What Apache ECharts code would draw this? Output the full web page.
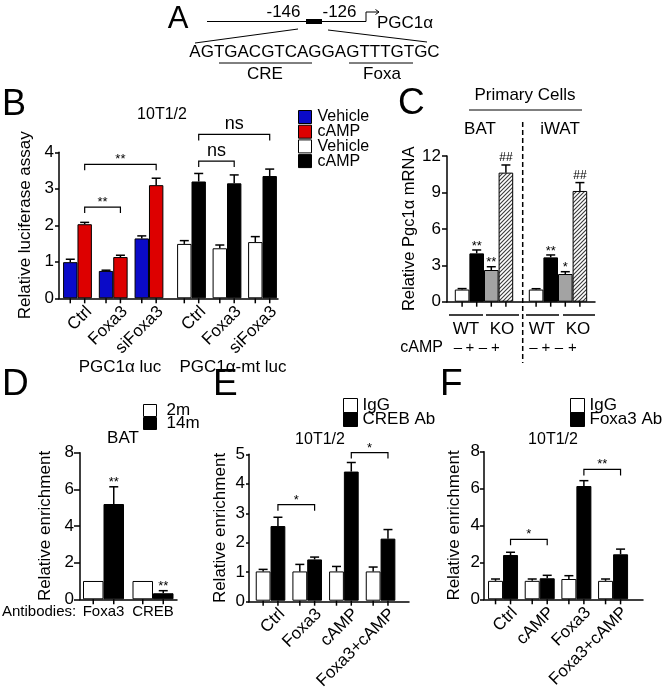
<!DOCTYPE html>
<html><head><meta charset="utf-8">
<script src="https://cdn.jsdelivr.net/npm/echarts@6/dist/echarts.min.js"></script>
<style>html,body{margin:0;padding:0;background:#fff}#c{width:666px;height:692px}</style>
</head><body><div id="c"></div>
<script>
// ---------------- DATA ----------------
// Panel B (10T1/2 luciferase)
const bCategories = ['Ctrl', 'Foxa3', 'siFoxa3'];
const bYTicks = [0, 1, 2, 3, 4];
const bLucVehicle = [0.99, 0.75, 1.64];
const bLucVehicleErr = [0.08, 0.02, 0.07];
const bLucCamp = [2.03, 1.13, 3.10];
const bLucCampErr = [0.05, 0.05, 0.19];
const bMtVehicle = [1.49, 1.37, 1.54];
const bMtVehicleErr = [0.09, 0.09, 0.15];
const bMtCamp = [3.20, 3.15, 3.35];
const bMtCampErr = [0.22, 0.23, 0.19];
const bLucBrackets = [[0, 1, 2.5], [0, 2, 3.67]];
const bLucBracketText = ['**', '**'];
const bMtBrackets = [[0, 1, 3.76], [0, 2, 4.49]];
const bMtBracketText = ['ns', 'ns'];

// Panel C (primary cells)
const cCategories = ['BAT', 'iWAT'];
const cYTicks = [0, 3, 6, 9, 12];
const cWtVehicle = [1.0, 1.0];
const cWtVehicleErr = [0.08, 0.07];
const cWtCamp = [3.98, 3.65];
const cWtCampErr = [0.28, 0.20];
const cWtCampSig = ['**', '**'];
const cKoVehicle = [2.61, 2.28];
const cKoVehicleErr = [0.27, 0.19];
const cKoVehicleSig = ['**', '*'];
const cKoCamp = [10.63, 9.12];
const cKoCampErr = [0.63, 0.69];
const cKoCampSig = ['##', '##'];

// Panel D (BAT ChIP)
const dCategories = ['Foxa3', 'CREB'];
const dYTicks = [0, 2, 4, 6, 8];
const d2m = [1.0, 1.0];
const d2mErr = [0.0, 0.0];
const d14m = [5.2, 0.33];
const d14mErr = [0.94, 0.14];
const d14mSig = ['**', '**'];

// Panel E (CREB ChIP)
const eCategories = ['Ctrl', 'Foxa3', 'cAMP', 'Foxa3+cAMP'];
const eYTicks = [0, 1, 2, 3, 4, 5];
const eIgG = [1.0, 1.0, 1.0, 1.0];
const eIgGErr = [0.07, 0.24, 0.17, 0.15];
const eCreb = [2.55, 1.41, 4.41, 2.12];
const eCrebErr = [0.30, 0.08, 0.31, 0.31];
const eBrackets = [[0, 1, 3.28], [2, 3, 5.06]];
const eBracketText = ['*', '*'];

// Panel F (Foxa3 ChIP)
const fCategories = ['Ctrl', 'cAMP', 'Foxa3', 'Foxa3+cAMP'];
const fYTicks = [0, 2, 4, 6, 8];
const fIgG = [1.0, 1.0, 1.1, 1.0];
const fIgGErr = [0.10, 0.10, 0.18, 0.10];
const fFoxa3 = [2.4, 1.14, 6.14, 2.44];
const fFoxa3Err = [0.15, 0.16, 0.29, 0.28];
const fBrackets = [[0, 1, 3.25], [2, 3, 7.04]];
const fBracketText = ['*', '**'];

// ---------------- BUILD ----------------
const FONT = '"Liberation Sans", Arial, Helvetica, sans-serif';
const AX = { color: '#000', width: 1.5 };
const opt = { animation: false, backgroundColor: '#fff', grid: [], xAxis: [], yAxis: [], series: [], legend: [], graphic: [] };

function frame(p) {
  const gi = opt.grid.length;
  opt.grid.push({ left: p.left, top: p.top, width: p.width, height: p.height });
  opt.xAxis.push({ gridIndex: gi, type: 'value', min: 0, max: 1, axisLine: { show: true, onZero: false, lineStyle: AX },
    axisTick: { show: false }, axisLabel: { show: false }, splitLine: { show: false } });
  const t = p.ticks;
  opt.yAxis.push({ gridIndex: gi, type: 'value', min: t[0], max: t[t.length - 1], interval: t[1] - t[0],
    axisLine: { show: true, lineStyle: AX }, axisTick: { show: true, length: p.tickLen, lineStyle: AX },
    axisLabel: { margin: p.labelMargin, fontSize: 17, color: '#000', fontFamily: FONT },
    splitLine: { show: false }, name: p.name, nameLocation: 'middle', nameGap: p.nameGap,
    nameTextStyle: { fontSize: p.nameSize || 17, color: '#000', fontFamily: FONT } });
  return gi;
}
function barGrid(p) {
  const gi = opt.grid.length;
  opt.grid.push({ left: p.left, top: p.top, width: p.width, height: p.height });
  opt.xAxis.push({ gridIndex: gi, type: 'category', data: p.cats, axisLine: { show: false }, axisTick: { show: false },
    axisLabel: p.label ? Object.assign({ show: true, interval: 0, fontSize: 17, color: '#000', fontFamily: FONT }, p.label) : { show: false },
    splitLine: { show: false } });
  const t = p.ticks;
  opt.yAxis.push({ gridIndex: gi, type: 'value', show: false, min: t[0], max: t[t.length - 1], interval: t[1] - t[0] });
  return gi;
}
function bars(gi, name, vals, errs, sigs, color, bw, k, n) {
  const off = (k - (n - 1) / 2) * bw;
  opt.series.push({ type: 'bar', name: name, xAxisIndex: gi, yAxisIndex: gi, data: vals, barWidth: bw, barGap: '0%',
    itemStyle: { color: color, borderColor: '#000', borderWidth: 1 }, silent: true, z: 2 });
  opt.series.push({ type: 'custom', xAxisIndex: gi, yAxisIndex: gi, silent: true, z: 3, clip: false,
    data: vals.map((v, i) => [i, v, errs[i]]), encode: { x: 0, y: 1 },
    renderItem: function (params, api) {
      const i = api.value(0), m = api.value(1), e = api.value(2);
      const b = api.coord([i, 0]), t = api.coord([i, m]), et = api.coord([i, m + e]);
      const x = b[0] + off, cap = 4.5;
      const s = { stroke: '#000', lineWidth: 1.5 };
      const ch = [{ type: 'line', shape: { x1: x, y1: b[1], x2: x, y2: b[1] + 5 }, style: s }];
      if (e > 0) {
        ch.push({ type: 'line', shape: { x1: x, y1: t[1], x2: x, y2: et[1] }, style: s });
        ch.push({ type: 'line', shape: { x1: x - cap, y1: et[1], x2: x + cap, y2: et[1] }, style: s });
      }
      const lab = sigs && sigs[params.dataIndex];
      if (lab) {
        const hash = lab[0] === '#';
        ch.push({ type: 'text', x: x, y: et[1] - (hash ? 7 : 4),
          style: { text: lab, fill: '#000', fontSize: hash ? 12 : 13, fontFamily: FONT, align: 'center', verticalAlign: 'middle' } });
      }
      return { type: 'group', children: ch };
    } });
}
function brackets(gi, list, texts, off) {
  opt.series.push({ type: 'custom', xAxisIndex: gi, yAxisIndex: gi, silent: true, z: 4, clip: false,
    data: list, encode: { x: [0, 1], y: 2 },
    renderItem: function (params, api) {
      const a = api.value(0), b = api.value(1), y = api.value(2);
      const p1 = api.coord([a, y]), p2 = api.coord([b, y]);
      const x1 = p1[0] + off, x2 = p2[0] + off, yy = p1[1];
      const txt = texts[params.dataIndex];
      const ns = txt === 'ns';
      return { type: 'group', children: [
        { type: 'polyline', shape: { points: [[x1, yy + 6], [x1, yy], [x2, yy], [x2, yy + 6]] }, style: { stroke: '#000', lineWidth: 1.2, fill: null } },
        { type: 'text', x: (x1 + x2) / 2, y: yy - (ns ? 10.5 : 4.5),
          style: { text: txt, fill: '#000', fontSize: ns ? 18 : 13, fontFamily: FONT, align: 'center', verticalAlign: 'middle' } }
      ] };
    } });
}
function hatch() {
  const c = document.createElement('canvas'); c.width = 4; c.height = 4;
  const g = c.getContext('2d');
  g.fillStyle = '#fff'; g.fillRect(0, 0, 4, 4);
  g.strokeStyle = '#3a3a3a'; g.lineWidth = 1.1;
  g.beginPath(); g.moveTo(-1, 5); g.lineTo(5, -1); g.moveTo(-1, 1); g.lineTo(1, -1); g.moveTo(3, 5); g.lineTo(5, 3); g.stroke();
  return { image: c, repeat: 'repeat' };
}
const rotLabel = { rotate: 45, margin: -1, align: 'right', verticalAlign: 'top', padding: [8, 0, 0, 0] };

// ---- Panel B ----
const bFrame = frame({ left: 59, top: 152.3, width: 219, height: 146, ticks: bYTicks, name: 'Relative luciferase assay', nameGap: 25, tickLen: 4, labelMargin: 5 });
const bLuc = barGrid({ left: 59.6, top: 152.3, width: 107.25, height: 146, cats: bCategories, ticks: bYTicks, label: rotLabel });
const bMt = barGrid({ left: 173.75, top: 152.3, width: 106.5, height: 146, cats: bCategories, ticks: bYTicks, label: rotLabel });
const bBW = 14.4;
bars(bLuc, 'Vehicle', bLucVehicle, bLucVehicleErr, null, '#0a0ac8', bBW, 0, 2);
bars(bLuc, 'cAMP', bLucCamp, bLucCampErr, null, '#dd0000', bBW, 1, 2);
bars(bMt, 'Vehicle·mt', bMtVehicle, bMtVehicleErr, null, '#ffffff', bBW, 0, 2);
bars(bMt, 'cAMP·mt', bMtCamp, bMtCampErr, null, '#000000', bBW, 1, 2);
brackets(bLuc, bLucBrackets, bLucBracketText, bBW / 2);
brackets(bMt, bMtBrackets, bMtBracketText, bBW / 2);

// ---- Panel C ----
const cFrame = frame({ left: 447, top: 156, width: 148, height: 145.7, ticks: cYTicks, name: 'Relative Pgc1α mRNA', nameGap: 29, nameSize: 16.5, tickLen: 5, labelMargin: 6 });
const cBars = barGrid({ left: 447, top: 156, width: 148, height: 145.7, cats: cCategories, ticks: cYTicks });
const cBW = 14.6;
bars(cBars, 'WT -', cWtVehicle, cWtVehicleErr, null, '#ffffff', cBW, 0, 4);
bars(cBars, 'WT +', cWtCamp, cWtCampErr, cWtCampSig, '#000000', cBW, 1, 4);
bars(cBars, 'KO -', cKoVehicle, cKoVehicleErr, cKoVehicleSig, '#a3a3a3', cBW, 2, 4);
bars(cBars, 'KO +', cKoCamp, cKoCampErr, cKoCampSig, hatch(), cBW, 3, 4);

// ---- Panel D ----
const dFrame = frame({ left: 80, top: 452.7, width: 97, height: 146.6, ticks: dYTicks, name: 'Relative enrichment', nameGap: 26, tickLen: 6, labelMargin: 6 });
const dBars = barGrid({ left: 78.75, top: 452.7, width: 99, height: 146.6, cats: dCategories, ticks: dYTicks, label: { margin: 5, fontSize: 15 } });
const dBW = 20.5;
bars(dBars, '2m', d2m, d2mErr, null, '#ffffff', dBW, 0, 2);
bars(dBars, '14m', d14m, d14mErr, d14mSig, '#000000', dBW, 1, 2);

// ---- Panel E ----
const eFrame = frame({ left: 249, top: 454.3, width: 160, height: 147.4, ticks: eYTicks, name: 'Relative enrichment', nameGap: 20, tickLen: 3, labelMargin: 4 });
const eBars = barGrid({ left: 252.2, top: 454.3, width: 146.7, height: 147.4, cats: eCategories, ticks: eYTicks, label: rotLabel });
const eBW = 14.8;
bars(eBars, 'IgG', eIgG, eIgGErr, null, '#ffffff', eBW, 0, 2);
bars(eBars, 'CREB Ab', eCreb, eCrebErr, null, '#000000', eBW, 1, 2);
brackets(eBars, eBrackets, eBracketText, eBW / 2);

// ---- Panel F ----
const fFrame = frame({ left: 484, top: 451.7, width: 159, height: 147.6, ticks: fYTicks, name: 'Relative enrichment', nameGap: 21, tickLen: 4, labelMargin: 4 });
const fBars = barGrid({ left: 484.7, top: 451.7, width: 146.7, height: 147.6, cats: fCategories, ticks: fYTicks, label: rotLabel });
const fBW = 15;
bars(fBars, 'IgG·F', fIgG, fIgGErr, null, '#ffffff', fBW, 0, 2);
bars(fBars, 'Foxa3 Ab', fFoxa3, fFoxa3Err, null, '#000000', fBW, 1, 2);
brackets(fBars, fBrackets, fBracketText, fBW / 2);

// ---- Legends ----
function legend(left, top, names, w, h, gap, size, textPad) {
  opt.legend.push({ left: left, top: top, orient: 'vertical', padding: 0, itemWidth: w, itemHeight: h, itemGap: gap,
    icon: 'rect', selectedMode: false, data: names, formatter: n => n.split('·')[0],
    itemStyle: { borderColor: '#000', borderWidth: 1 },
    textStyle: { fontSize: size, color: '#000', fontFamily: FONT, padding: [0, 0, 0, textPad || 0] } });
}
legend(298, 109, ['Vehicle', 'cAMP', 'Vehicle·mt', 'cAMP·mt'], 13, 13, -1.3, 16, 1);
legend(143, 402, ['2m', '14m'], 13, 12, -4, 17, 5);
legend(343, 397, ['IgG', 'CREB Ab'], 14, 14, -3, 17, 0);
legend(570, 397, ['IgG·F', 'Foxa3 Ab'], 14, 14, -3, 17, 0);

// ---- Graphic annotations ----
function T(x, y, text, size, align, va) {
  return { type: 'text', x: x, y: y, silent: true,
    style: { text: text, fill: '#000', fontSize: size, fontFamily: FONT, align: align || 'center', verticalAlign: va || 'middle' } };
}
function L(x1, y1, x2, y2, lw, dash) {
  return { type: 'line', silent: true, shape: { x1: x1, y1: y1, x2: x2, y2: y2 }, style: { stroke: '#000', lineWidth: lw || 1, lineDash: dash || null } };
}
const G = opt.graphic;
// A
G.push(T(178, 19, 'A', 31));
G.push(L(207, 21.5, 366, 21.5, 1));
G.push({ type: 'rect', silent: true, shape: { x: 306, y: 19, width: 16, height: 5 }, style: { fill: '#000' } });
G.push(T(283.5, 12, '-146', 17), T(339.5, 12, '-126', 17));
G.push({ type: 'polyline', silent: true, shape: { points: [[366, 21.5], [366, 12], [379, 12]] }, style: { stroke: '#000', lineWidth: 1, fill: null } });
G.push({ type: 'polyline', silent: true, shape: { points: [[375.5, 9.5], [379, 12], [375.5, 14.5]] }, style: { stroke: '#000', lineWidth: 1, fill: null } });
G.push(T(377, 23, 'PGC1α', 17, 'left'));
G.push(L(298, 29, 195, 43, 1), L(328, 30, 427, 42, 1));
G.push(T(314.5, 52, 'AGTGACGTCAGGAGTTTGTGC', 17));
G.push(L(219, 63, 312, 63, 1), T(265, 74, 'CRE', 17));
G.push(L(349, 63, 413, 63, 1), T(382, 74, 'Foxa', 17));
// B
G.push(T(2, 105, 'B', 36, 'left'));
G.push(T(162, 115, '10T1/2', 16));
G.push(T(120, 367, 'PGC1α luc', 17), T(233, 367, 'PGC1α-mt luc', 17));
// C
G.push(T(398, 104, 'C', 37, 'left'));
G.push(T(525, 95, 'Primary Cells', 17));
G.push(L(469, 110, 582, 110, 1));
G.push(T(480, 129, 'BAT', 17), T(560, 129, 'iWAT', 17));
G.push(L(522.7, 122, 522.7, 363, 1.5, [5, 3]));
G.push(L(449, 315, 483, 315, 1.5), L(486, 315, 519, 315, 1.5), L(526, 315, 559, 315, 1.5), L(563, 315, 595, 315, 1.5));
G.push(T(466, 329, 'WT', 17), T(502, 329, 'KO', 17), T(542, 329, 'WT', 17), T(578, 329, 'KO', 17));
G.push(T(443, 348, 'cAMP', 16, 'right'));
[[458, '–'], [470, '+'], [483, '–'], [495.5, '+'], [533.5, '–'], [546, '+'], [559, '–'], [572.5, '+']].forEach(s => G.push(T(s[0], 348, s[1], 15)));
// D
G.push(T(2, 385, 'D', 37, 'left'));
G.push(T(123, 438, 'BAT', 17));
G.push(T(2, 612, 'Antibodies:', 15, 'left'));
// E
G.push(T(213, 385, 'E', 37, 'left'));
G.push(T(320, 440, '10T1/2', 16));
// F
G.push(T(440, 385, 'F', 37, 'left'));
G.push(T(553, 440, '10T1/2', 16));

const chart = echarts.init(document.getElementById('c'), null, { renderer: 'canvas' });
chart.setOption(opt);
</script>
</body></html>
